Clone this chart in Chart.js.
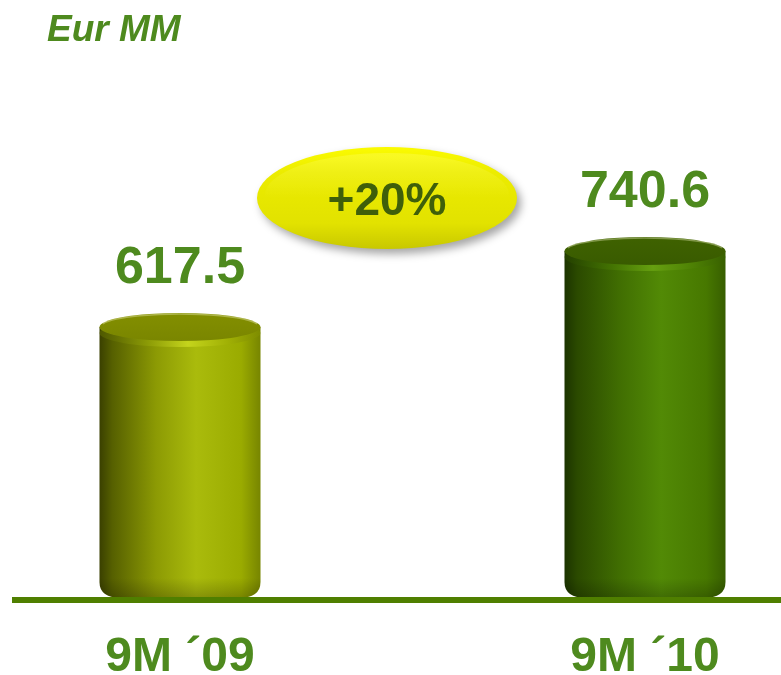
<!DOCTYPE html>
<html>
<head>
<meta charset="utf-8">
<script src="https://cdn.jsdelivr.net/npm/chart.js@4.4.1/dist/chart.umd.min.js"></script>
<style>
  html, body { margin: 0; padding: 0; background: #ffffff; }
  #wrap { width: 781px; height: 675px; }
</style>
</head>
<body>
<div id="wrap"><canvas id="chart" width="781" height="675"></canvas></div>
<script>
// Revenue, nine-month periods
const categories = ['9M \u00B409', '9M \u00B410'];
const revenue = [617.5, 740.6];
const unitLabel = 'Eur MM';

const FONT = "'Liberation Sans', Arial, Helvetica, sans-serif";
const GREEN_TEXT = '#4e8a1e';

// Shading for each cylinder: body (left→right), top face, front rim
const palettes = [
  {
    body: [[0, '#3a4000'], [0.08, '#566000'], [0.35, '#8c9a04'], [0.6, '#aabb0c'], [0.88, '#9aab00'], [1, '#778500']],
    face: ['#838f00', '#7a8600'],
    rim: [[0, '#4e5800'], [0.3, '#8c9b06'], [0.55, '#c4d41c'], [0.8, '#a0b004'], [1, '#7e8c00']]
  },
  {
    body: [[0, '#1c3400'], [0.08, '#2b4a00'], [0.35, '#416f02'], [0.6, '#528a06'], [0.88, '#477800'], [1, '#375e00']],
    face: ['#3f6200', '#395b00'],
    rim: [[0, '#244000'], [0.3, '#447402'], [0.55, '#66a010'], [0.8, '#4d8004'], [1, '#386000']]
  }
];

function hGradient(ctx, x0, x1, stops) {
  const g = ctx.createLinearGradient(x0, 0, x1, 0);
  stops.forEach(([o, c]) => g.addColorStop(o, c));
  return g;
}

function drawCylinder(ctx, cx, top, base, width, pal) {
  const hw = width / 2;
  const ry = 14;
  const r = 16;
  const bottom = base - 2;
  const left = cx - hw, right = cx + hw;

  ctx.save();
  // body with rounded lower corners
  ctx.beginPath();
  ctx.moveTo(left, top);
  ctx.lineTo(left, bottom - r);
  ctx.quadraticCurveTo(left, bottom, left + r * 1.4, bottom);
  ctx.lineTo(right - r * 1.4, bottom);
  ctx.quadraticCurveTo(right, bottom, right, bottom - r);
  ctx.lineTo(right, top);
  ctx.closePath();
  ctx.fillStyle = hGradient(ctx, left, right, pal.body);
  ctx.fill();

  // darker fall-off towards the foot
  ctx.save();
  ctx.clip();
  const foot = ctx.createLinearGradient(0, bottom - 20, 0, bottom);
  foot.addColorStop(0, 'rgba(0,0,0,0)');
  foot.addColorStop(1, 'rgba(0,0,0,0.22)');
  ctx.fillStyle = foot;
  ctx.fillRect(left, bottom - 20, width, 20);

  // front rim highlight just below the top face
  ctx.beginPath();
  ctx.ellipse(cx, top + 6, hw, ry, 0, 0, Math.PI * 2);
  ctx.fillStyle = hGradient(ctx, left, right, pal.rim);
  ctx.fill();
  ctx.restore();

  // top face
  ctx.beginPath();
  ctx.ellipse(cx, top, hw, ry, 0, 0, Math.PI * 2);
  const fg = ctx.createLinearGradient(0, top - ry, 0, top + ry);
  fg.addColorStop(0, pal.face[0]);
  fg.addColorStop(1, pal.face[1]);
  ctx.fillStyle = fg;
  ctx.fill();

  // soft light on the back edge
  ctx.beginPath();
  ctx.ellipse(cx, top, hw - 1, ry - 1, 0, Math.PI * 1.08, Math.PI * 1.92);
  ctx.strokeStyle = 'rgba(255,255,210,0.35)';
  ctx.lineWidth = 1.5;
  ctx.stroke();
  ctx.restore();
}

const cylinders = {
  id: 'cylinders',
  afterDatasetsDraw(chart) {
    const ctx = chart.ctx;
    const meta = chart.getDatasetMeta(0);
    const floor = chart.chartArea.bottom;
    meta.data.forEach((bar, i) => {
      const p = bar.getProps(['x', 'y', 'base', 'width'], true);
      drawCylinder(ctx, p.x, p.y, Math.min(p.base, floor), p.width, palettes[i % palettes.length]);
    });

    // ground line
    ctx.save();
    ctx.fillStyle = '#4f7f00';
    ctx.fillRect(12, floor - 3, chart.width - 12, 6);
    ctx.restore();

    // value labels above each cylinder
    ctx.save();
    ctx.font = 'bold 52px ' + FONT;
    ctx.fillStyle = GREEN_TEXT;
    ctx.textAlign = 'center';
    ctx.textBaseline = 'alphabetic';
    meta.data.forEach((bar, i) => {
      const p = bar.getProps(['x', 'y'], true);
      ctx.fillText(revenue[i].toFixed(1), p.x, p.y - 44);
    });
    ctx.restore();
  }
};

// unit caption and growth badge
const annotations = {
  id: 'annotations',
  afterDraw(chart) {
    const ctx = chart.ctx;
    ctx.save();
    ctx.font = 'italic bold 37px ' + FONT;
    ctx.fillStyle = GREEN_TEXT;
    ctx.textAlign = 'left';
    ctx.textBaseline = 'alphabetic';
    ctx.fillText(unitLabel, 47, 41);
    ctx.restore();

    const cx = 387, cy = 198, rx = 130, ry = 51;
    ctx.save();
    ctx.beginPath();
    ctx.ellipse(cx, cy, rx, ry, 0, 0, Math.PI * 2);
    ctx.shadowColor = 'rgba(0,0,0,0.35)';
    ctx.shadowBlur = 9;
    ctx.shadowOffsetX = 4;
    ctx.shadowOffsetY = 5;
    const g = ctx.createLinearGradient(0, cy - ry, 0, cy + ry);
    g.addColorStop(0, '#fbfb00');
    g.addColorStop(0.25, '#ecec00');
    g.addColorStop(0.75, '#e2e200');
    g.addColorStop(1, '#c8c800');
    ctx.fillStyle = g;
    ctx.fill();
    ctx.restore();

    // glossy inner band
    ctx.save();
    ctx.beginPath();
    ctx.ellipse(cx, cy - 3, rx - 8, ry - 9, 0, 0, Math.PI * 2);
    const hg = ctx.createLinearGradient(0, cy - ry, 0, cy + ry);
    hg.addColorStop(0, 'rgba(255,255,120,0.35)');
    hg.addColorStop(0.5, 'rgba(255,255,120,0.0)');
    ctx.fillStyle = hg;
    ctx.fill();
    ctx.restore();

    const growth = Math.round((revenue[1] / revenue[0] - 1) * 100);
    ctx.save();
    ctx.font = 'bold 46px ' + FONT;
    ctx.fillStyle = '#3f5f0a';
    ctx.textAlign = 'center';
    ctx.textBaseline = 'alphabetic';
    ctx.fillText((growth >= 0 ? '+' : '') + growth + '%', cx, cy + 17);
    ctx.restore();
  }
};

new Chart(document.getElementById('chart'), {
  type: 'bar',
  data: {
    labels: categories,
    datasets: [{
      data: revenue,
      backgroundColor: 'rgba(0,0,0,0)',
      borderWidth: 0,
      barThickness: 161
    }]
  },
  options: {
    responsive: false,
    animation: false,
    layout: { padding: { left: 180, right: 136, top: 91, bottom: 0 } },
    plugins: { legend: { display: false }, tooltip: { enabled: false }, title: { display: false } },
    scales: {
      x: {
        offset: false,
        grid: { display: false, drawTicks: false },
        border: { display: false },
        ticks: {
          padding: 29,
          color: GREEN_TEXT,
          font: { family: FONT, size: 48, weight: 'bold' },
          maxRotation: 0,
          autoSkip: false
        },
        afterFit(scale) { scale.height = 75; }
      },
      y: {
        display: false,
        min: 175,
        max: 1000
      }
    }
  },
  plugins: [cylinders, annotations]
});
</script>
</body>
</html>
